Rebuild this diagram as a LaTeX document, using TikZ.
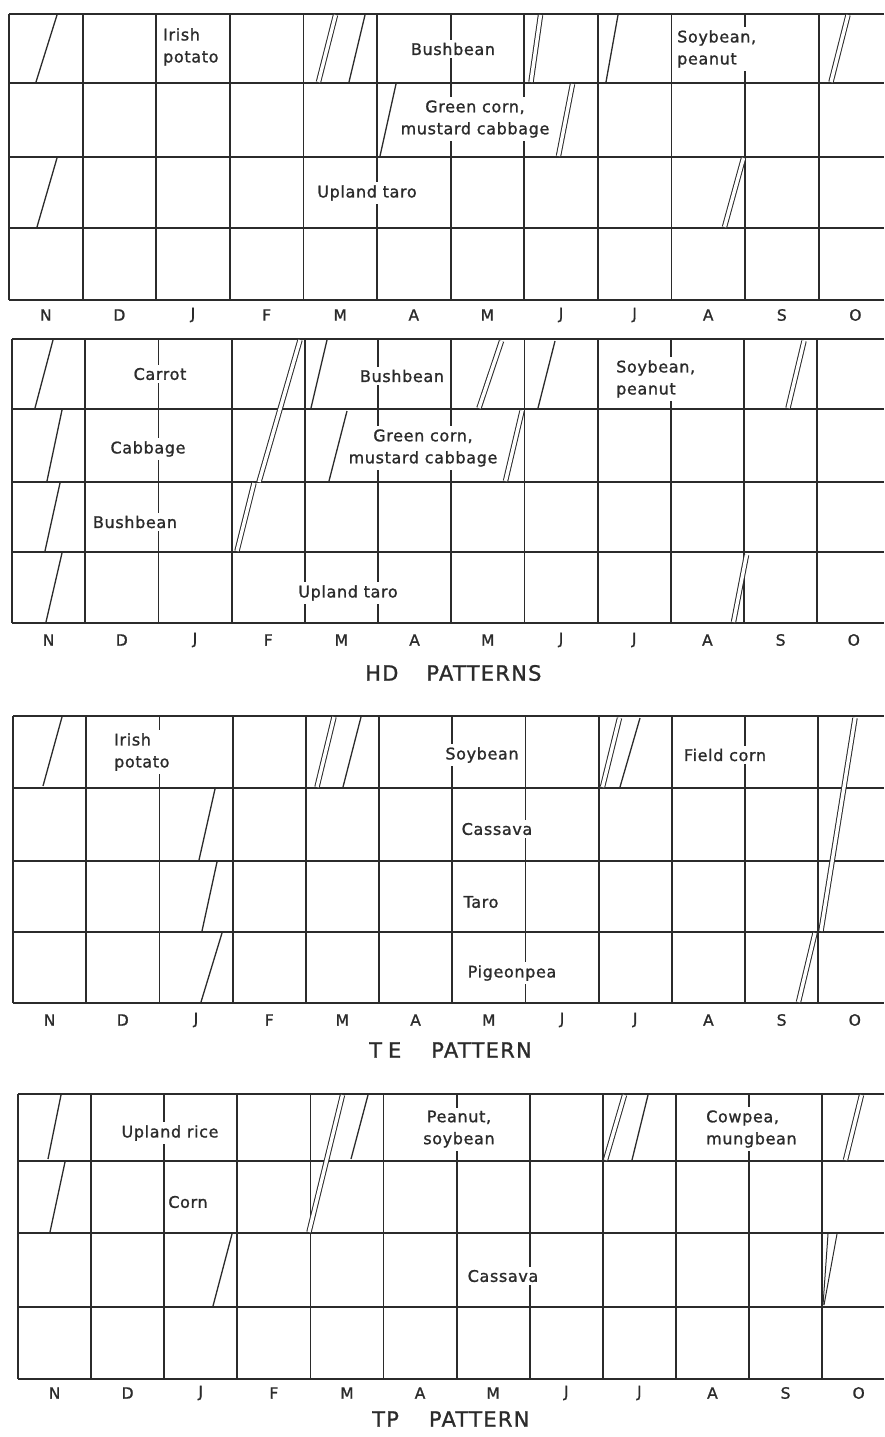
\documentclass[tikz,border=0pt]{standalone}
\usepackage{fontspec}
\newfontfamily\labfont[LetterSpace=4,FakeBold=1.2]{DejaVu Sans}
\newfontfamily\ttlfont[LetterSpace=6,FakeBold=1.2]{DejaVu Sans}
\definecolor{ink}{HTML}{2B2B2B}
\tikzset{
 hline/.style={draw=ink,line width=2.4pt},
 vline/.style={draw=ink,line width=1.8pt},
 sl/.style={draw=ink,line width=1.3pt},
 thinsl/.style={draw=ink,line width=1pt},
 dbl/.style={draw=ink,line width=1pt,double=white,double distance=3.4pt},
 crop/.style={font=\labfont\fontsize{16}{22}\selectfont, fill=white, text=ink, inner xsep=2pt, inner ysep=3pt, align=center},
 cropl/.style={crop, align=left, anchor=west},
 month/.style={font=\labfont\fontsize{15.5}{18}\selectfont, text=ink, inner sep=0pt},
 ttl/.style={font=\ttlfont\fontsize{21}{24}\selectfont, text=ink, anchor=west, inner sep=0pt},
}
% #1 name, #2 x0, #3 column width, #4-#8 row lines, #9 month label y
\newcommand{\cropgrid}[9]{%
 \foreach \yy in {#4,#5,#6,#7,#8} \draw[hline] (#2,\yy) -- (884,\yy);
 \foreach \i in {0,...,11} \draw[vline] ({#2+\i*#3},#4) -- ({#2+\i*#3},#8);
 \foreach \m [count=\i from 0] in {N,D,J,F,M,A,M,J,J,A,S,O}
   \node[month] (#1m\i) at ({#2+(\i+0.5)*#3},#9) {\m};
}
\begin{document}
\begin{tikzpicture}[x=1pt,y=-1pt]
\fill[white] (0,0) rectangle (884,1437);
\useasboundingbox (0,0) rectangle (884,1437);

% ---------------- Panel 1 (HD) ----------------
\cropgrid{pa}{9}{73.6}{14}{83}{157}{228}{300}{315}
\node[cropl] (pairish) at (161,47) {Irish\\potato};
\node[crop] (pabush) at (453,49) {Bushbean};
\node[crop] (pagreen) at (475,119) {Green corn,\\mustard cabbage};
\node[cropl] (pasoy) at (675,49) {Soybean,\\peanut};
\node[crop] (pataro) at (367,193) {Upland taro};
\draw[sl] (57,15) -- (36,82);
\draw[sl] (365,15) -- (349,82);
\draw[sl] (618,15) -- (606,82);
\draw[sl] (396,84) -- (380,156);
\draw[sl] (57,158) -- (37,227);
\draw[dbl] (335.5,15) -- (318.5,82);
\draw[dbl] (540.5,15) -- (531,82);
\draw[dbl] (848,15) -- (831,82);
\draw[dbl] (572.5,84) -- (558.5,156);
\draw[dbl] (743.5,158) -- (724.5,227);

% ---------------- Panel 2 (HD) ----------------
\cropgrid{pb}{12}{73.2}{339}{409}{482}{552}{623}{640}
\node[crop] (pbcarrot) at (160,374) {Carrot};
\node[crop] (pbbush) at (402,376) {Bushbean};
\node[cropl] (pbsoy) at (614,379) {Soybean,\\peanut};
\node[crop] (pbcab) at (148,449) {Cabbage};
\node[crop] (pbgreen) at (423,448) {Green corn,\\mustard cabbage};
\node[crop] (pbbush2) at (135,522) {Bushbean};
\node[crop] (pbtaro) at (348,593) {Upland taro};
\draw[sl] (53,340) -- (35,408);
\draw[sl] (327,340) -- (311,408);
\draw[sl] (555,341) -- (538,408);
\draw[sl] (62,410) -- (47,481);
\draw[sl] (347,411) -- (329,481);
\draw[sl] (60,483) -- (45,551);
\draw[sl] (62,553) -- (46,622);
\draw[dbl] (300,340) -- (259,482);
\draw[dbl] (254,483) -- (237,551);
\draw[dbl] (501.5,341) -- (479,408);
\draw[dbl] (804,341) -- (788,408);
\draw[dbl] (522,411) -- (505.5,481);
\draw[dbl] (746.5,555) -- (733.5,622);
\node[ttl] (hdtitle) at (365,673) {HD\hspace{28pt}PATTERNS};

% ---------------- Panel 3 (TE) ----------------
\cropgrid{pc}{13}{73.2}{716}{788}{861}{932}{1003}{1020}
\node[cropl] (pcirish) at (112,752) {Irish\\potato};
\node[crop] (pcsoy) at (482,755) {Soybean};
\node[crop] (pcfield) at (725,755) {Field corn};
\node[crop] (pccassava) at (497,829) {Cassava};
\node[crop] (pctaro) at (481,902) {Taro};
\node[crop] (pcpigeon) at (512,973) {Pigeonpea};
\draw[sl] (62,717) -- (43,786);
\draw[sl] (361,717) -- (343,787);
\draw[sl] (640,718) -- (620,787);
\draw[sl] (215,789) -- (199,860);
\draw[sl] (217,862) -- (202,931);
\draw[sl] (222,933) -- (201,1002);
\draw[dbl] (334,717) -- (317,787);
\draw[dbl] (619.5,718) -- (602.5,787);
\draw[dbl] (855,718) -- (821,931);
\draw[dbl] (815,933) -- (798.5,1002);
\node[ttl] (tetitle) at (369,1050) {T\hspace{6pt}E\hspace{30pt}PATTERN};

% ---------------- Panel 4 (TP) ----------------
\cropgrid{pd}{18}{73.1}{1094}{1161}{1233}{1307}{1379}{1393}
\node[crop] (pdrice) at (170,1133) {Upland rice};
\node[crop] (pdpeanut) at (459,1129) {Peanut,\\soybean};
\node[cropl] (pdcowpea) at (704,1129) {Cowpea,\\mungbean};
\node[crop] (pdcorn) at (188,1202) {Corn};
\node[crop] (pdcassava) at (503,1276) {Cassava};
\draw[sl] (61,1095) -- (48,1159);
\draw[sl] (368,1095) -- (351,1159);
\draw[sl] (648,1095) -- (632,1160);
\draw[sl] (65,1162) -- (50,1232);
\draw[sl] (232,1234) -- (213,1306);
\draw[dbl] (342.5,1095) -- (309,1232);
\draw[dbl] (624.5,1095) -- (605.5,1160);
\draw[dbl] (861.5,1095) -- (845.5,1160);
\draw[thinsl] (828,1234) -- (823,1305);
\draw[thinsl] (837,1234) -- (824,1305);
\node[ttl] (tptitle) at (372,1419) {TP\hspace{30pt}PATTERN};
\end{tikzpicture}
\end{document}
